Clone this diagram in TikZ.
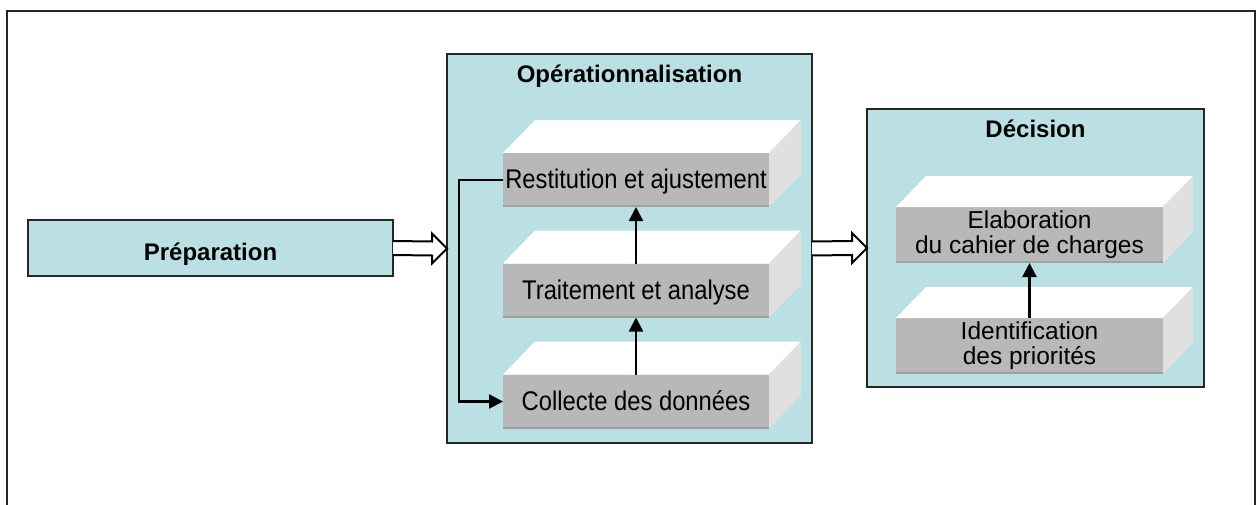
\documentclass[tikz,border=0pt]{standalone}
\usepackage{fontspec}
\setmainfont{Liberation Sans}
\newfontfamily\narrowfont[FakeStretch=0.88]{Liberation Sans}
\usetikzlibrary{calc,arrows.meta}
\definecolor{boxblue}{RGB}{186,224,227}
\definecolor{facegray}{RGB}{184,184,184}
\definecolor{sidegray}{RGB}{224,224,224}
\definecolor{edgegray}{RGB}{160,160,160}
\newcommand\myfaces[3]{%
  \fill[white] (#1.north west) -- ++(#2,-#3) -- ($(#1.north east)+(#2,-#3)$) -- (#1.north east) -- cycle;
  \fill[sidegray] (#1.north east) -- ++(#2,-#3) -- ($(#1.south east)+(#2,-#3)$) -- (#1.south east) -- cycle;
  \fill[edgegray] (#1.south west) rectangle ($(#1.south east)+(0,-2)$);
}
\begin{document}
\begin{tikzpicture}[x=1pt,y=-1pt,
  frame/.style={draw=black!85,line width=2pt},
  bluebox/.style={draw=black!85,fill=boxblue,line width=2pt,inner sep=0pt,outer sep=0pt,rectangle},
  titletext/.style={font=\bfseries\fontsize{24}{28}\selectfont,inner sep=0pt,anchor=base},
  front/.style={fill=facegray,inner sep=0pt,outer sep=0pt,rectangle,minimum width=266,minimum height=54,
     font=\narrowfont\fontsize{27}{30}\selectfont,text height=20pt,text depth=2pt},
  fronttwo/.style={fill=facegray,inner sep=0pt,outer sep=0pt,rectangle,minimum width=267,minimum height=56,
     font=\fontsize{24.5}{25}\selectfont,align=center},
  flow/.style={line width=2.3pt,-{Triangle[width=14pt,length=14pt]}},
  hollow/.style={draw=black,fill=white,line width=2pt,line join=miter}
]
\useasboundingbox (0,0) rectangle (1260,505);
\draw[frame] (7,505) -- (7,11) -- (1255,11) -- (1255,505);

% Preparation
\node[bluebox,minimum width=365,minimum height=56,font=\bfseries\fontsize{24}{28}\selectfont,
      text height=24pt,text depth=0pt] (prep) at (210.5,248) {Préparation};

% Operationnalisation
\node[bluebox,minimum width=365,minimum height=389] (oper) at (629.5,248.5) {};
\node[titletext] (opertitle) at ($(oper.north)+(0,29)$) {Opérationnalisation};

\node[front] (rest) at (636,180) {Restitution et ajustement};
\node[front] (trait) at (636,290.5) {Traitement et analyse};
\node[front] (coll) at (636,401.5) {Collecte des données};
\myfaces{rest}{32}{33}
\myfaces{trait}{32}{33}
\myfaces{coll}{32}{33}

\draw[flow] (coll.north) -- (trait.south);
\draw[flow] (trait.north) -- (rest.south);
\draw[flow] (rest.west) -- ++(-44,0) |- (coll.west);

% Decision
\node[bluebox,minimum width=337,minimum height=278] (dec) at (1035.5,248) {};
\node[titletext] (dectitle) at ($(dec.north)+(0,29)$) {Décision};

\node[fronttwo] (elab) at (1029.5,235) {Elaboration\\du cahier de charges};
\node[fronttwo] (ident) at (1029.5,346) {Identification\\des priorités};
\myfaces{elab}{30}{31}
\myfaces{ident}{30}{31}

\draw[flow] (ident.north) -- (elab.south);

% hollow arrows
\draw[hollow] ($(prep.east)+(0,-7)$) -- ($(oper.west)+(-15,-7)$) -- ($(oper.west)+(-15,-15)$)
  -- (oper.west) -- ($(oper.west)+(-15,15)$) -- ($(oper.west)+(-15,7)$) -- ($(prep.east)+(0,7)$);
\draw[hollow] ($(oper.east)+(0,-7)$) -- ($(dec.west)+(-15,-7)$) -- ($(dec.west)+(-15,-15)$)
  -- (dec.west) -- ($(dec.west)+(-15,15)$) -- ($(dec.west)+(-15,7)$) -- ($(oper.east)+(0,7)$);
\end{tikzpicture}
\end{document}
